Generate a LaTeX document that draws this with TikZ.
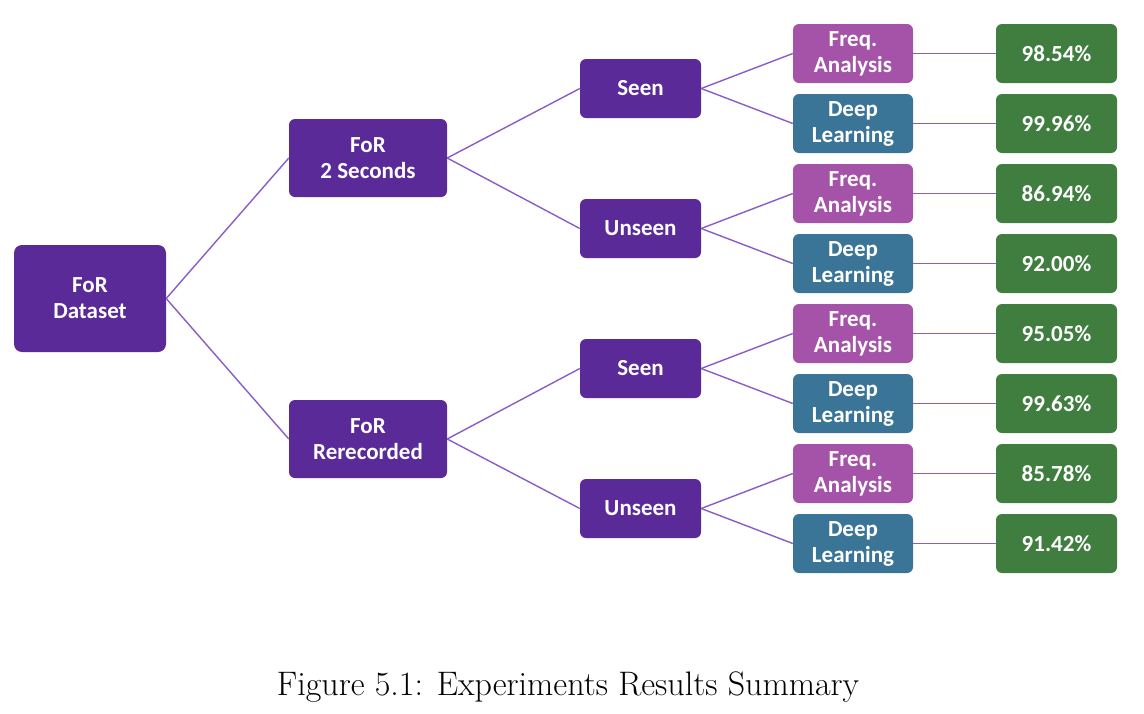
\documentclass[tikz,border=0pt]{standalone}
\usepackage{fontspec}
\newfontfamily\boxfont{Carlito}
\definecolor{darkpurple}{HTML}{5A2A98}
\definecolor{freqcol}{HTML}{A453A8}
\definecolor{deepcol}{HTML}{3A7598}
\definecolor{rescol}{HTML}{3F7E3F}
\definecolor{linkcol}{HTML}{8A5CC6}
\tikzset{
  base/.style={rounded corners=6pt, text=white, align=center, inner sep=0pt,
    font=\boxfont\bfseries\fontsize{23}{26}\selectfont},
  rootbox/.style={base, fill=darkpurple, minimum width=152pt, minimum height=107pt, rounded corners=8pt},
  mainbox/.style={base, fill=darkpurple, minimum width=158pt, minimum height=78pt},
  splitbox/.style={base, fill=darkpurple, minimum width=121pt, minimum height=59pt},
  freqbox/.style={base, fill=freqcol, minimum width=120pt, minimum height=59pt},
  deepbox/.style={base, fill=deepcol, minimum width=120pt, minimum height=59pt},
  resbox/.style={base, fill=rescol, minimum width=121pt, minimum height=59pt},
  link/.style={linkcol, line width=1.4pt}
}
\begin{document}
\begin{tikzpicture}[x=1pt, y=-1pt]
    \useasboundingbox (0,0) rectangle (1144,713);
    % tree root and first split
    \node[rootbox] (dataset) at (90,298.5) {FoR\\Dataset};
    \node[mainbox] (twosec) at (368,158) {FoR\\2 Seconds};
    \node[mainbox] (rerec) at (368,439) {FoR\\Rerecorded};
    \draw[link] (dataset.east) -- (twosec.west);
    \draw[link] (dataset.east) -- (rerec.west);
    % seen / unseen, methods and results
    \foreach \grp/\up/\lbl/\yy/\fr/\dl in {sa/twosec/Seen/88.5/98.54/99.96,
        ua/twosec/Unseen/228.5/86.94/92.00,
        sb/rerec/Seen/368.5/95.05/99.63,
        ub/rerec/Unseen/508.5/85.78/91.42}
    {
      \node[splitbox] (\grp) at (640.5,\yy) {\lbl};
      \node[freqbox] (f\grp) at (853,\yy-35) {Freq.\\Analysis};
      \node[deepbox] (d\grp) at (853,\yy+35) {Deep\\Learning};
      \node[resbox] (rf\grp) at (1056.5,\yy-35) {\fr\%};
      \node[resbox] (rd\grp) at (1056.5,\yy+35) {\dl\%};
      \draw[link] (\up.east) -- (\grp.west);
      \draw[link] (\grp.east) -- (f\grp.west);
      \draw[link] (\grp.east) -- (d\grp.west);
      \draw[link] (f\grp.east) -- (rf\grp.west);
      \draw[link] (d\grp.east) -- (rd\grp.west);
    }
    % caption
    \node[font=\fontsize{34}{40}\selectfont] (caption) at (568,687) {Figure 5.1: Experiments Results Summary};
\end{tikzpicture}
\end{document}
